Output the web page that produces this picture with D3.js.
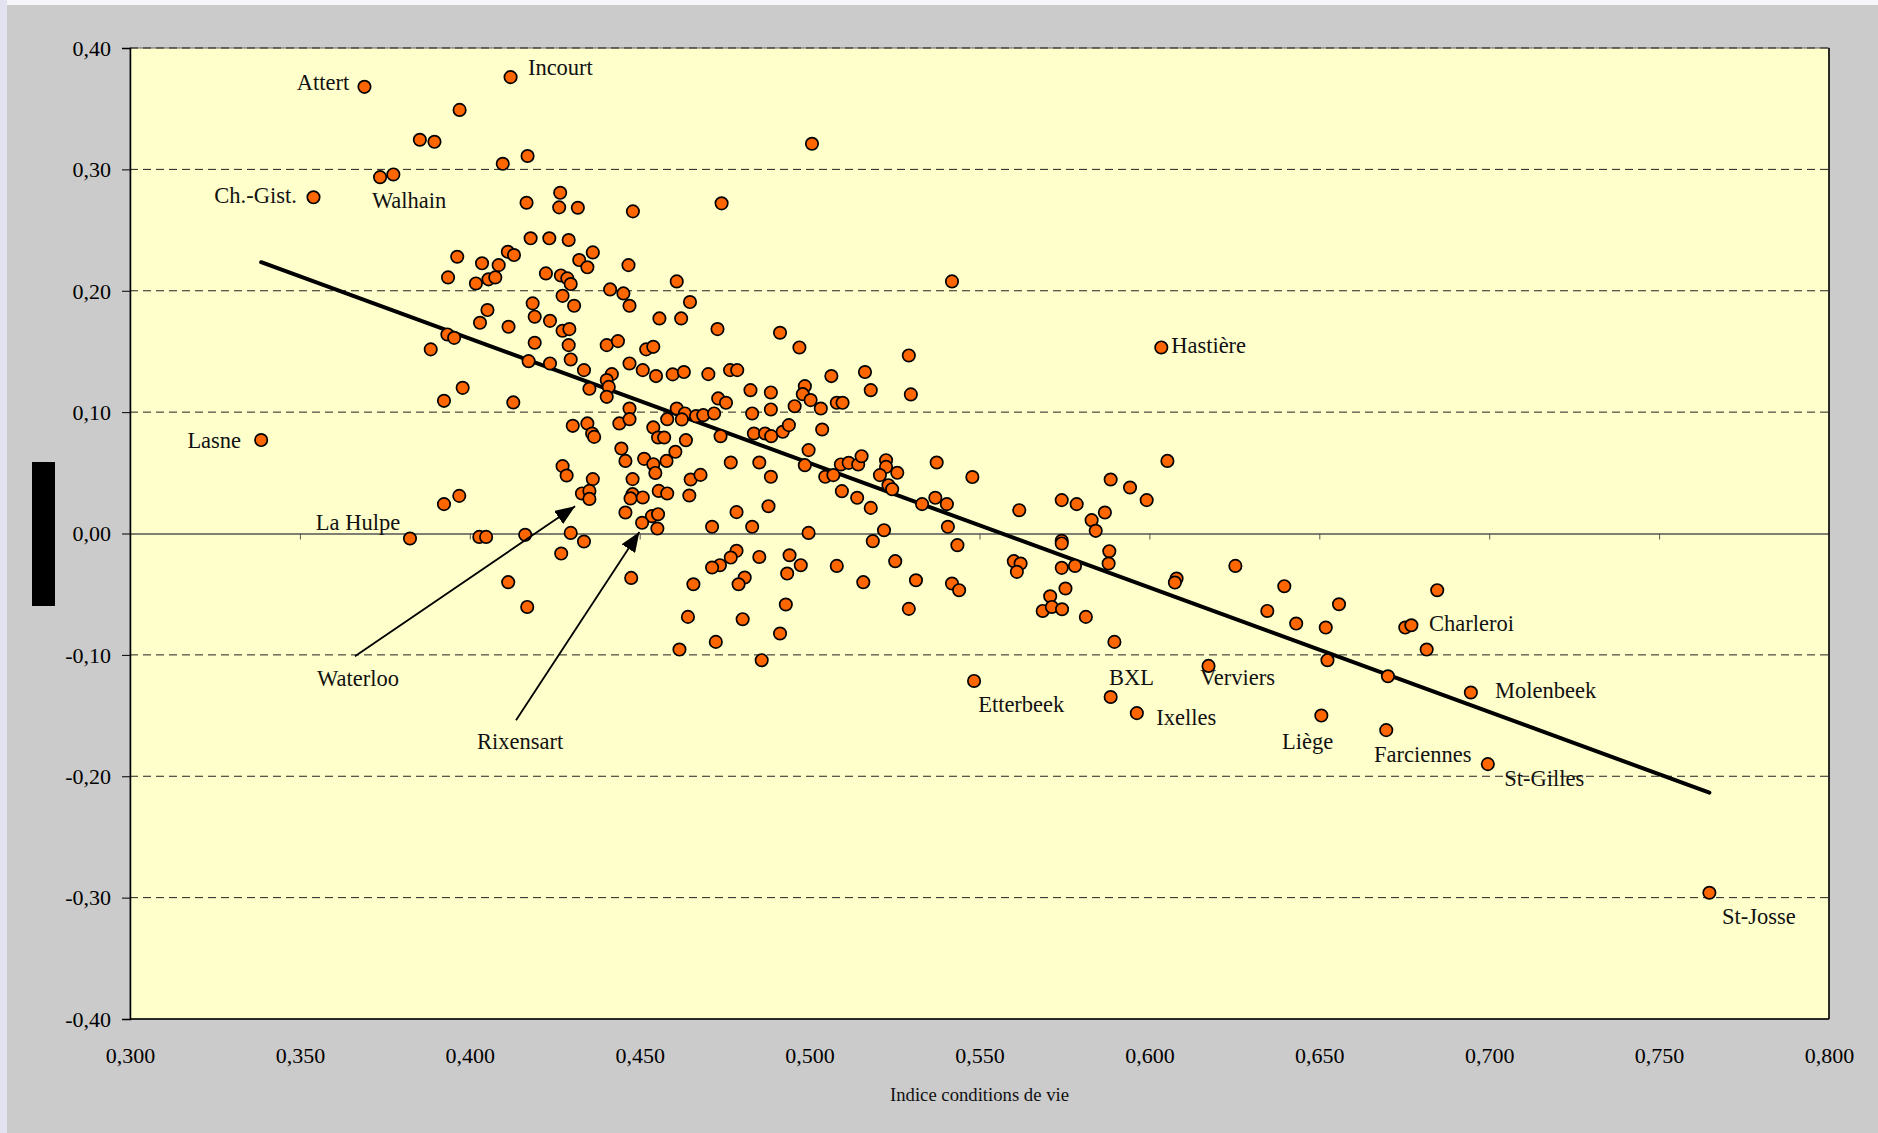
<!DOCTYPE html>
<html><head><meta charset="utf-8">
<script src="https://cdn.jsdelivr.net/npm/d3@7"></script>
<style>body{margin:0;background:#fff;overflow:hidden}</style>
</head><body>
<svg id="chart" width="1878" height="1133"></svg>
<script>
// ---- data ----
const xValues = [
0.369,0.412,0.354,0.3736,0.3775,0.397,0.3853,0.3896,0.4097,0.417,0.5007,
0.4266,0.4167,0.4263,0.4318,0.448,0.4179,0.4234,0.4291,0.3963,0.4036,0.4085,0.4112,0.413,0.3936,0.4018,0.4055,0.4075,
0.4322,0.4362,0.4346,0.4467,0.4224,0.4268,0.4287,0.4297,0.4609,0.4413,0.4452,0.447,0.4273,0.4307,0.4185,0.4191,0.4236,
0.4052,0.403,0.4114,0.4273,0.4293,0.4558,0.4622,0.3934,0.3954,0.3885,0.4191,0.4291,0.4403,0.4436,0.4519,0.454,
0.4173,0.4236,0.4297,0.4336,0.447,0.4509,0.4548,0.4597,0.4418,0.4403,0.4409,0.4352,0.4403,0.3979,0.3924,0.4128,0.447,0.4609,
0.4303,0.4346,0.436,0.4366,0.444,0.447,0.454,0.4554,0.4572,0.4581,0.4605,0.4446,0.4458,0.4513,0.454,0.4546,0.4579,
0.4273,0.4285,0.4362,0.433,0.4352,0.4352,0.4479,0.4479,0.4473,0.4509,0.4556,0.4581,0.4458,0.4536,0.4554,0.4507,0.4552,
0.3969,0.3924,0.3824,0.4028,0.4048,0.4163,0.4297,0.4336,0.4269,0.4475,0.4113,0.4169,0.4617,0.3386,
0.4741,0.5419,0.4648,0.4729,0.4913,0.497,0.5292,0.463,0.4702,0.4766,0.4787,0.5064,0.5163,0.4826,0.4886,0.4986,0.498,
0.5003,0.518,0.5298,0.4731,0.4754,0.508,0.5097,0.5033,0.4956,
0.4633,0.4624,0.4666,0.4687,0.4719,0.4831,0.4886,0.4738,0.4836,0.4869,0.4887,0.4921,0.4939,0.5037,0.4636,0.4768,
0.4852,0.4997,0.4986,0.4886,0.465,0.4679,0.4646,0.5046,0.507,0.5092,0.5115,0.5143,0.5153,0.5225,0.5225,0.5207,0.5258,
0.5232,0.5243,0.5095,0.514,0.518,0.5331,0.537,0.5404,0.5374,0.5479,0.4785,0.4879,0.4713,0.4831,0.4997,0.5219,0.5186,
0.5407,0.5435,0.4785,0.4768,0.4852,0.4941,0.4736,0.4713,0.4974,0.4934,0.508,0.5252,0.4809,0.4791,0.4658,0.5158,0.5313,
0.5419,0.544,0.493,0.5292,0.4642,0.4803,0.4913,0.4724,0.4859,
0.6035,0.6053,0.5886,0.5943,0.5992,0.5617,0.5742,0.5786,0.5869,0.583,0.5842,0.5742,0.5742,0.5882,0.588,0.5601,0.5621,
0.561,0.5742,0.5781,0.5753,0.5708,0.5686,0.5713,0.5743,0.5813,0.5897,0.608,0.6075,0.6253,0.6397,0.6347,0.6432,0.6519,
0.6558,0.6524,0.6702,0.6753,0.6771,0.6816,0.6847,0.6174,0.5484,0.5886,0.5963,0.6506,0.6697,0.6946,0.6996,0.7648
];
const yValues = [
0.368,0.376,0.277,0.2936,0.2958,0.349,0.3244,0.3227,0.3046,0.311,0.3211,
0.2807,0.2725,0.2687,0.2684,0.2654,0.2432,0.2432,0.2418,0.228,0.2226,0.2211,0.2321,0.2294,0.211,0.206,0.2094,0.211,
0.2253,0.2316,0.2193,0.2211,0.2143,0.2126,0.2102,0.2055,0.2077,0.2011,0.1978,0.1876,0.1958,0.1876,0.1896,0.1786,0.1752,
0.1841,0.1736,0.1703,0.167,0.1684,0.1772,0.1772,0.164,0.1612,0.1517,0.1571,0.1552,0.1552,0.1585,0.1517,0.1538,
0.142,0.1401,0.1434,0.1346,0.1401,0.1346,0.1297,0.1311,0.1313,0.1264,0.1208,0.1192,0.1126,0.12,0.1093,0.108,0.103,0.103,
0.0887,0.0907,0.0824,0.0796,0.0907,0.0942,0.0874,0.0791,0.0791,0.0942,0.0673,0.07,0.0598,0.0615,0.0571,0.0499,0.0598,
0.0555,0.0478,0.0448,0.033,0.0351,0.0285,0.0448,0.0324,0.0289,0.0297,0.0351,0.033,0.0173,0.0143,0.0159,0.0088,0.0041,
0.031,0.0242,-0.0041,-0.0028,-0.0028,-0.0011,0.0005,-0.0066,-0.0165,-0.0366,-0.0401,-0.0605,-0.0956,0.077,
0.272,0.2077,0.1907,0.1684,0.1654,0.1533,0.1467,0.133,0.1313,0.1346,0.1346,0.1297,0.133,0.1181,0.1162,0.1214,0.1148,
0.1099,0.1181,0.1146,0.1113,0.1077,0.1077,0.1077,0.103,0.1049,
0.0989,0.094,0.0967,0.0975,0.0989,0.0989,0.1022,0.0802,0.0824,0.0824,0.0802,0.0838,0.0893,0.0857,0.0769,0.0585,
0.0585,0.0687,0.0563,0.0467,0.0445,0.0483,0.0313,0.0467,0.0481,0.0569,0.0582,0.0569,0.0637,0.0604,0.0549,0.0481,0.05,
0.0398,0.0365,0.0349,0.0294,0.0211,0.0242,0.0294,0.0242,0.0585,0.0465,0.0176,0.0225,0.0055,0.0055,0.0005,0.0027,-0.0063,
0.0055,-0.0096,-0.0143,-0.0198,-0.0193,-0.0179,-0.0261,-0.028,-0.0261,-0.033,-0.0267,-0.0228,-0.0363,-0.0418,-0.0418,-0.0401,-0.0385,
-0.0412,-0.0467,-0.0585,-0.0621,-0.0687,-0.0706,-0.0824,-0.0893,-0.1044,
0.1533,0.0598,0.0445,0.0379,0.0275,0.0192,0.0275,0.0242,0.0173,0.011,0.0022,-0.006,-0.0082,-0.0146,-0.0247,-0.0228,-0.0247,
-0.0316,-0.0283,-0.0267,-0.0453,-0.0517,-0.0638,-0.0605,-0.0624,-0.0687,-0.0893,-0.0371,-0.0404,-0.0267,-0.0434,-0.0638,-0.0742,-0.0775,
-0.0583,-0.1044,-0.1176,-0.0775,-0.0756,-0.0956,-0.0467,-0.1091,-0.1215,-0.1347,-0.148,-0.150,-0.162,-0.131,-0.190,-0.296
];
const yTicks = [0.40,0.30,0.20,0.10,0.00,-0.10,-0.20,-0.30,-0.40];
const xTicks = [0.300,0.350,0.400,0.450,0.500,0.550,0.600,0.650,0.700,0.750,0.800];
const xTitle = "Indice conditions de vie";
const labelNames = ["Attert","Incourt","Ch.-Gist.","Walhain","Lasne","La Hulpe","Waterloo","Rixensart","Hastière",
  "Etterbeek","BXL","Verviers","Ixelles","Liège","Charleroi","Molenbeek","Farciennes","St-Gilles","St-Josse"];
const labelX = [0.3645,0.4171,0.3491,0.3712,0.3327,0.3795,0.3671,0.4148,0.6064,0.5496,0.5881,0.6149,0.602,0.639,0.6823,0.7017,0.6661,0.7044,0.7685];
const labelY = [0.3712,0.3835,0.2788,0.2739,0.0769,0.0093,-0.1192,-0.1712,0.1552,-0.1407,-0.1184,-0.1184,-0.1514,-0.1712,-0.0739,-0.1291,-0.1819,-0.2017,-0.3154];
const labelAnchor = ["end","start","end","start","end","end","middle","middle","start","start","start","start","start","start","start","start","start","start","start"];
const trendX = [0.3386, 0.7648];
const trendY = [0.2235, -0.2135];
const arrowFromX = [0.3662, 0.4136], arrowFromY = [-0.1011, -0.1539];
const arrowToX = [0.4310, 0.4499],   arrowToY = [0.0225, 0.0013];

// ---- drawing ----
const W = 1878, H = 1133;
const L = 130, R = 1829, T = 48, B = 1019;
const svg = d3.select("#chart");
const x = d3.scaleLinear().domain([0.3, 0.8]).range([L, R]);
const y = d3.scaleLinear().domain([-0.4, 0.4]).range([B, T]);
const FONT = "'Liberation Serif','Times New Roman',serif";
const fmtY = d => (d < 0 ? "-" : "") + Math.abs(d).toFixed(2).replace(".", ",");
const fmtX = d => d.toFixed(3).replace(".", ",");

// backgrounds
svg.append("rect").attr("width", W).attr("height", H).attr("fill", "#f6f6fa");
svg.append("rect").attr("x", 0).attr("y", 0).attr("width", 7).attr("height", H).attr("fill", "#e2e2f0");
svg.append("rect").attr("x", 7).attr("y", 5).attr("width", W - 7).attr("height", H - 5).attr("fill", "#cbcbcb");
svg.append("rect").attr("x", L).attr("y", T).attr("width", R - L).attr("height", B - T)
  .attr("fill", "#ffffcc").attr("stroke", "#666").attr("stroke-width", 1);

// dashed gridlines
svg.append("g").selectAll("line").data(yTicks.filter(d => d !== 0 && d !== -0.4)).join("line")
  .attr("x1", L).attr("x2", R).attr("y1", d => y(d)).attr("y2", d => y(d))
  .attr("stroke", "#222").attr("stroke-width", 1).attr("stroke-dasharray", "8,5");

// zero line with x ticks
const zeroAxis = svg.append("g").attr("transform", `translate(0,${y(0)})`)
  .call(d3.axisBottom(x).tickValues(xTicks.slice(1, -1)).tickSize(6).tickSizeOuter(0).tickFormat(""));
zeroAxis.select(".domain").attr("stroke", "#555").attr("stroke-width", 1.5);
zeroAxis.selectAll(".tick line").attr("stroke", "#555").attr("stroke-width", 1);

// plot frame: bottom, right
svg.append("line").attr("x1", L).attr("x2", R).attr("y1", B).attr("y2", B).attr("stroke", "#000").attr("stroke-width", 1.5);
svg.append("line").attr("x1", R).attr("x2", R).attr("y1", T).attr("y2", B).attr("stroke", "#000").attr("stroke-width", 1.5);

// y axis
const yAxis = svg.append("g").attr("transform", `translate(${L},0)`)
  .call(d3.axisLeft(y).tickValues(yTicks).tickSize(8).tickPadding(11).tickFormat(fmtY));
yAxis.select(".domain").attr("stroke", "#000").attr("stroke-width", 1.5);
yAxis.selectAll(".tick line").attr("stroke", "#000");
yAxis.selectAll(".tick text").attr("font-family", FONT).attr("font-size", 22).attr("fill", "#000").attr("dy", "0.33em");

// x axis labels
const xAxis = svg.append("g").attr("transform", `translate(0,${B})`)
  .call(d3.axisBottom(x).tickValues(xTicks).tickSize(0).tickFormat(fmtX));
xAxis.select(".domain").remove();
xAxis.selectAll(".tick text").attr("font-family", FONT).attr("font-size", 22).attr("fill", "#000")
  .attr("y", 37).attr("dy", "0.33em");

// x title
svg.append("text").attr("x", (x(0.55))).attr("y", 1095).attr("dy", "0.33em").attr("text-anchor", "middle")
  .attr("font-family", FONT).attr("font-size", 18).attr("fill", "#111")
  .attr("textLength", 179).attr("lengthAdjust", "spacingAndGlyphs").text(xTitle);

// hidden y title (black block)
svg.append("rect").attr("x", 32).attr("y", 462).attr("width", 23).attr("height", 144).attr("fill", "#000");

// trend line
svg.append("line").attr("x1", x(trendX[0])).attr("y1", y(trendY[0])).attr("x2", x(trendX[1])).attr("y2", y(trendY[1]))
  .attr("stroke", "#000").attr("stroke-width", 4).attr("stroke-linecap", "round");

// points
const pts = xValues.map((v, i) => ({ x: v, y: yValues[i] }));
svg.append("g").selectAll("circle").data(pts).join("circle")
  .attr("cx", d => x(d.x)).attr("cy", d => y(d.y)).attr("r", 6.2)
  .attr("fill", "#ff6600").attr("stroke", "#000").attr("stroke-width", 1.7);

// arrows
const defs = svg.append("defs");
defs.append("marker").attr("id", "ah").attr("markerUnits", "userSpaceOnUse")
  .attr("viewBox", "0 0 20 16").attr("markerWidth", 20).attr("markerHeight", 16)
  .attr("refX", 20).attr("refY", 8).attr("orient", "auto")
  .append("path").attr("d", "M0,0 L20,8 L0,16 Z").attr("fill", "#000");
svg.append("g").selectAll("line").data(arrowFromX.map((v, i) => i)).join("line")
  .attr("x1", i => x(arrowFromX[i])).attr("y1", i => y(arrowFromY[i]))
  .attr("x2", i => x(arrowToX[i])).attr("y2", i => y(arrowToY[i]))
  .attr("stroke", "#000").attr("stroke-width", 1.8).attr("marker-end", "url(#ah)");

// labels
svg.append("g").selectAll("text").data(labelNames.map((n, i) => i)).join("text")
  .attr("x", i => x(labelX[i])).attr("y", i => y(labelY[i])).attr("dy", "0.33em")
  .attr("text-anchor", i => labelAnchor[i])
  .attr("font-family", FONT).attr("font-size", 22.5).attr("fill", "#111")
  .text(i => labelNames[i]);
</script>
</body></html>
